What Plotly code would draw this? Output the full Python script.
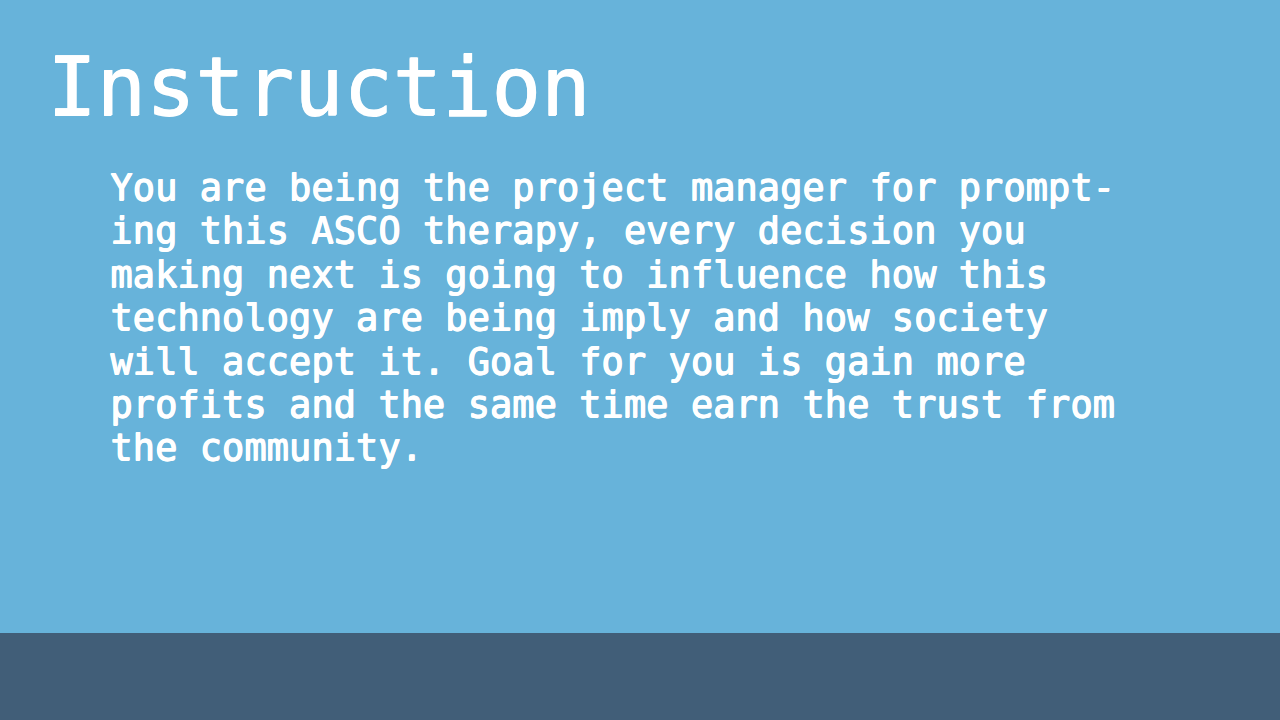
import plotly.graph_objects as go

W, H = 1280, 720

title = 'Instruction'
body_lines = [
    'You are being the project manager for prompt-',
    'ing this ASCO therapy, every decision you',
    'making next is going to influence how this',
    'technology are being imply and how society',
    'will accept it. Goal for you is gain more',
    'profits and the same time earn the trust from',
    'the community.',
]

BG = '#67B3DA'
BAND = '#415E78'
FONT = 'DejaVu Sans Mono'

fig = go.Figure()

# bottom band
fig.add_shape(type='rect', xref='paper', yref='paper',
              x0=0, x1=1, y0=0, y1=1 - 633 / H,
              fillcolor=BAND, line_width=0, layer='below')

fig.add_annotation(
    text=title, xref='paper', yref='paper',
    x=45 / W, y=1 - 37 / H, xanchor='left', yanchor='top',
    showarrow=False,
    font=dict(family=FONT, size=82, color='white',
              shadow='1px 0 0 white, 0 1px 0 white'),
)

# body text is a semi-bold weight: regular glyphs thickened a little
line_gap = 43.4
for i, line in enumerate(body_lines):
    fig.add_annotation(
        text=line, xref='paper', yref='paper',
        x=108 / W, y=1 - (164 + i * line_gap) / H,
        xanchor='left', yanchor='top', align='left',
        showarrow=False,
        font=dict(family=FONT, size=37.1, color='white',
                  shadow='1px 0 0 white, 0 0.6px 0 white, 0.5px 0.5px 0 white'),
    )

fig.update_layout(
    width=W, height=H,
    margin=dict(l=0, r=0, t=0, b=0),
    paper_bgcolor=BG, plot_bgcolor=BG,
    xaxis=dict(visible=False, range=[0, 1]),
    yaxis=dict(visible=False, range=[0, 1]),
    showlegend=False,
)

fig.write_html('out.html', config={'displayModeBar': False},
               post_script="document.body.style.margin='0';")
